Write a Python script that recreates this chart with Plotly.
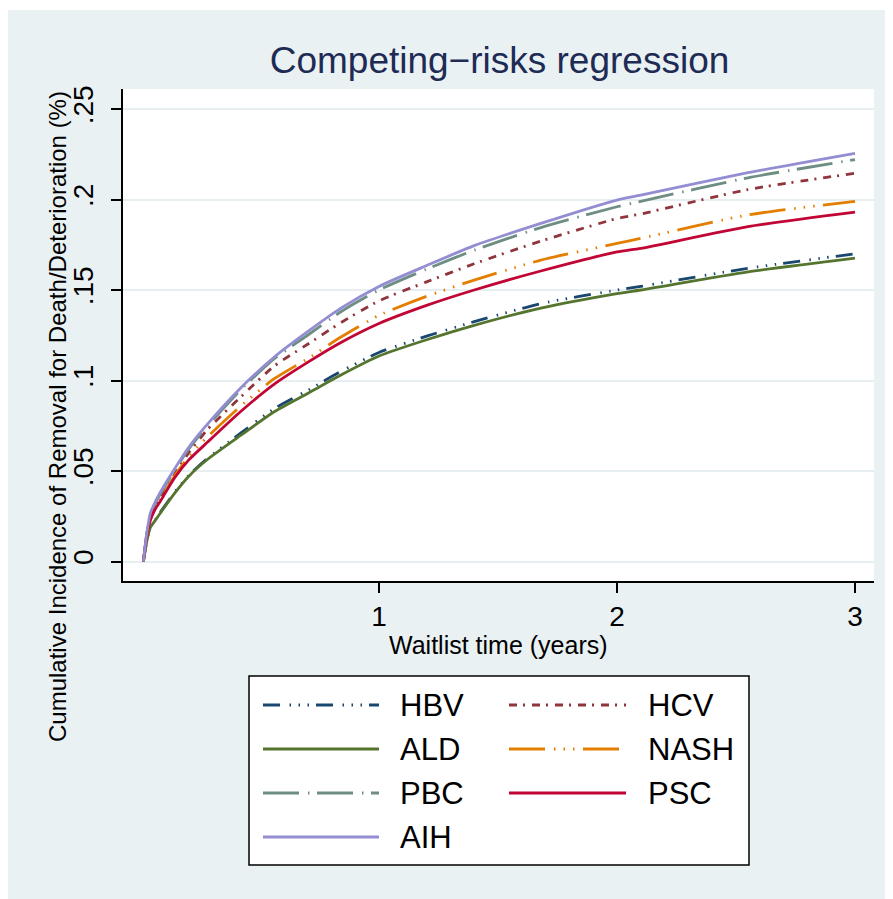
import plotly.graph_objects as go

# ---- data ----
years = [0.01, 0.024, 0.04, 0.06, 0.08, 0.14, 0.2, 0.28, 0.42, 0.56, 0.70, 0.84,
         1.0, 1.2, 1.4, 1.68, 2.0, 2.1, 2.55, 3.0]

aih  = [0, 0.0155, 0.027, 0.033, 0.038, 0.051, 0.063, 0.076, 0.096, 0.113, 0.127, 0.140,
        0.152, 0.1635, 0.1745, 0.1868, 0.1997, 0.2024, 0.2148, 0.2255]
pbc  = [0, 0.015, 0.026, 0.032, 0.037, 0.050, 0.062, 0.075, 0.095, 0.112, 0.125, 0.138,
        0.150, 0.1615, 0.172, 0.1845, 0.196, 0.199, 0.212, 0.222]
hcv  = [0, 0.0145, 0.025, 0.031, 0.035, 0.048, 0.060, 0.073, 0.091, 0.108, 0.120, 0.132,
        0.144, 0.1545, 0.1645, 0.177, 0.1895, 0.192, 0.2055, 0.2145]
nash = [0, 0.014, 0.024, 0.030, 0.034, 0.047, 0.058, 0.069, 0.086, 0.101, 0.112, 0.124,
        0.136, 0.1465, 0.1555, 0.1665, 0.1757, 0.1785, 0.1915, 0.199]
psc  = [0, 0.0135, 0.023, 0.029, 0.033, 0.046, 0.056, 0.066, 0.083, 0.098, 0.110, 0.121,
        0.1315, 0.1415, 0.150, 0.1605, 0.171, 0.173, 0.185, 0.193]
hbv  = [0, 0.011, 0.019, 0.023, 0.027, 0.038, 0.0475, 0.057, 0.071, 0.0845, 0.0945, 0.105,
        0.1155, 0.1245, 0.1325, 0.1425, 0.150, 0.152, 0.162, 0.170]
ald  = [0, 0.011, 0.019, 0.0227, 0.0265, 0.0375, 0.047, 0.0565, 0.0698, 0.0827, 0.0928, 0.103,
        0.1135, 0.1225, 0.1305, 0.140, 0.148, 0.150, 0.160, 0.1676]

names = ["HBV", "HCV", "ALD", "NASH", "PBC", "PSC", "AIH"]
series = [hbv, hcv, ald, nash, pbc, psc, aih]

x_ticks = [1, 2, 3]
x_tick_labels = ["1", "2", "3"]
y_ticks = [0, 0.05, 0.10, 0.15, 0.20, 0.25]
y_tick_labels = ["0", ".05", ".1", ".15", ".2", ".25"]

title_text = "Competing\u2212risks regression"
x_title = "Waitlist time (years)"
y_title = "Cumulative Incidence of Removal for Death/Deterioration (%)"

# ---- styles ----
colors = ["#1A476F", "#90353B", "#55752F", "#E37E00", "#6E8E84", "#C10534", "#938DD2"]
dashes = [
    "17px,9.5px,1.5px,7.5px,1.5px,7.5px,1.5px,7px",
    "8px,6px,2px,7px",
    "solid",
    "36px,9px,1.5px,8px,1.5px,8px,1.5px,8.5px",
    "36px,9px,1.5px,7.5px",
    "solid",
    "solid",
]

OFF = 8  # the page places the figure 8px from the top-left corner
W, H = 893 - OFF, 899 - OFF
# plot area in page pixels
PL, PR, PT, PB = 123, 874, 89, 581
L, R, T, B = PL - OFF, PR - OFF, PT - OFF, PB - OFF
BG = "#EAF1F3"
FONT = "Liberation Sans, Arial, Helvetica, sans-serif"


def px(xp):  # page x -> paper
    return (xp - OFF - L) / (R - L)


def py(yp):  # page y -> paper
    return (B - (yp - OFF)) / (B - T)


fig = go.Figure()
for nm, ys, c, d in zip(names, series, colors, dashes):
    fig.add_trace(go.Scatter(x=years, y=ys, mode="lines", name=nm,
                             line=dict(color=c, width=2.8, dash=d, shape="spline", smoothing=0.6),
                             showlegend=False))

shapes = []
# white strip at the very top of the picture
shapes.append(dict(type="rect", xref="paper", yref="paper",
                   x0=px(0), x1=px(910), y0=py(10), y1=py(0),
                   fillcolor="white", line=dict(width=0), layer="below"))
# legend box
shapes.append(dict(type="rect", xref="paper", yref="paper",
                   x0=px(249), x1=px(749), y0=py(865), y1=py(676),
                   fillcolor="white", line=dict(color="black", width=1.5)))

annotations = []
leg_rows = [705, 749, 793, 837]
leg_cols = [(263, 379, 398), (509, 626, 646)]
for i, (nm, c, d) in enumerate(zip(names, colors, dashes)):
    row, col = divmod(i, 2)
    x0, x1, xt = leg_cols[col]
    yc = leg_rows[row]
    shapes.append(dict(type="line", xref="paper", yref="paper",
                       x0=px(x0), x1=px(x1), y0=py(yc), y1=py(yc),
                       line=dict(color=c, width=2.8, dash=d)))
    annotations.append(dict(xref="paper", yref="paper", x=px(xt), y=py(yc),
                            xanchor="left", yanchor="middle", showarrow=False,
                            text=nm, font=dict(size=31, color="black", family=FONT)))

# axis titles
annotations.append(dict(xref="paper", yref="paper", x=px(498.5), y=py(645),
                        xanchor="center", yanchor="middle", showarrow=False,
                        text=x_title, font=dict(size=25, color="black", family=FONT)))
annotations.append(dict(xref="paper", yref="paper", x=px(57), y=py(417),
                        xanchor="center", yanchor="middle", showarrow=False, textangle=-90,
                        text=y_title, font=dict(size=24, color="black", family=FONT)))

fig.update_layout(
    width=W, height=H,
    margin=dict(l=L, r=W - R, t=T, b=H - B, pad=0),
    paper_bgcolor=BG, plot_bgcolor="white",
    font=dict(family=FONT, color="black"),
    title=dict(text=title_text, x=(499.5 - OFF) / W, xanchor="center",
               y=1 - (60 - OFF) / H, yanchor="middle",
               font=dict(size=37, color="#1E2B55", family=FONT)),
    shapes=shapes, annotations=annotations,
    showlegend=False,
)
fig.update_xaxes(range=[(PL - 141) / 238, (PR - 141) / 238],
                 tickvals=x_ticks, ticktext=x_tick_labels,
                 ticks="outside", ticklen=10, tickwidth=1.5, tickcolor="black",
                 showline=True, linecolor="black", linewidth=1.5,
                 showgrid=False, zeroline=False,
                 tickfont=dict(size=28, color="black"))
fig.update_yaxes(range=[(561.5 - PB) / 1810, (561.5 - PT) / 1810],
                 tickvals=y_ticks, ticktext=y_tick_labels, tickangle=-90,
                 ticks="outside", ticklen=10, tickwidth=1.5, tickcolor="black",
                 showline=True, linecolor="black", linewidth=1.5,
                 showgrid=True, gridcolor="#E6EEF1", gridwidth=2, zeroline=False,
                 ticklabelstandoff=7,
                 tickfont=dict(size=28, color="black"))

fig.write_html("out.html")
